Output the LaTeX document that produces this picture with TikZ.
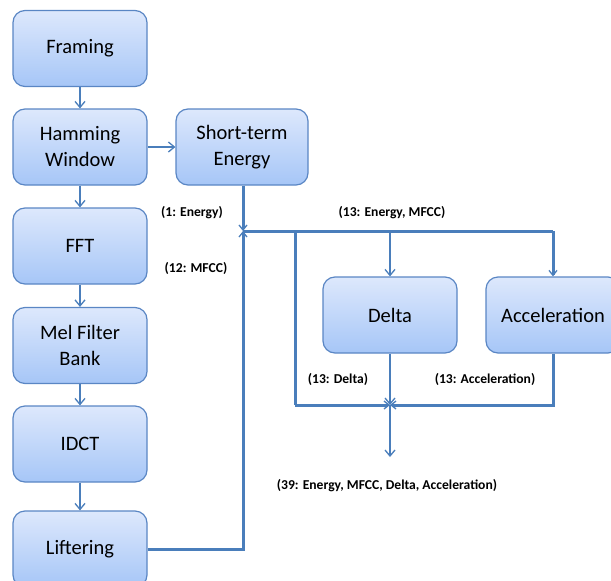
\documentclass[tikz,border=0pt]{standalone}
\usepackage{fontspec}
\setmainfont{Carlito}
\usetikzlibrary{arrows.meta}
\definecolor{edgeblue}{HTML}{5A86C4}
\definecolor{lineblue}{HTML}{4A7EBB}
\definecolor{topfill}{HTML}{DDE8FC}
\definecolor{botfill}{HTML}{A6C6F7}
\tikzset{
  procbox/.style={draw=edgeblue, line width=1.2pt, rounded corners=12pt,
    top color=topfill, bottom color=botfill, minimum width=134pt,
    minimum height=76pt, align=center, inner sep=0pt,
    font=\fontsize{20.5}{26}\selectfont},
  thinarrow/.style={draw=lineblue, line width=1.5pt,
    -{Straight Barb[length=6pt,width=10pt,line width=1.3pt]}},
  thickline/.style={draw=lineblue, line width=3pt},
  thickarrow/.style={draw=lineblue, line width=3pt,
    -{Straight Barb[length=5pt,width=8pt,line width=1.3pt]}},
  lbl/.style={font=\fontsize{13.6}{16}\bfseries\selectfont, inner sep=0pt}
}
\begin{document}
\begin{tikzpicture}[x=1pt,y=-1pt]
\useasboundingbox (0,0) rectangle (611,581);
\clip (0,0) rectangle (611,581);
% left column
\node[procbox] (framing) at (80,48.5) {Framing};
\node[procbox] (hamming) at (80,147) {Hamming\\Window};
\node[procbox] (fft) at (80,246) {FFT};
\node[procbox] (mel) at (80,345.5) {Mel Filter\\Bank};
\node[procbox] (idct) at (80,444) {IDCT};
\node[procbox] (lift) at (80,549) {Liftering};
\node[procbox, minimum width=132pt] (energy) at (242,147) {Short-term\\Energy};
\node[procbox] (delta) at (390,315) {Delta};
\node[procbox] (accel) at (553,315) {Acceleration};
% junctions
\coordinate (j1) at (243,231);
\coordinate (j2) at (390,405);
\coordinate (out) at (390,457);
% left column arrows
\draw[thinarrow] (framing) -- (hamming);
\draw[thinarrow] (hamming) -- (fft);
\draw[thinarrow] (fft) -- (mel);
\draw[thinarrow] (mel) -- (idct);
\draw[thinarrow] (idct) -- (lift);
\draw[thinarrow] (hamming) -- (energy);
% into junction 1
\draw[thickarrow] (energy.south -| j1) -- (j1);
\draw[thickarrow] (lift.east) -- (lift.east -| j1) -- (j1);
% from junction 1
\draw[thickline] (j1) -- (553,231);
\draw[thickarrow] (553,231) -- (accel.north);
\draw[thinarrow] (390,231) -- (delta.north);
\draw[thickline] (295,231) -- (295,405);
\draw[thickarrow] (295,405) -- (j2);
\draw[thickarrow] (accel.south) -- (553,405) -- (j2);
\draw[thinarrow] (delta.south) -- (j2);
\draw[thinarrow] (j2) -- (out);
% labels
\node[lbl] (l1) at (192,213) {(1: Energy)};
\node[lbl] (l2) at (196,268) {(12: MFCC)};
\node[lbl] (l3) at (392,213) {(13: Energy, MFCC)};
\node[lbl] (l4) at (338,379) {(13: Delta)};
\node[lbl] (l5) at (485,379) {(13: Acceleration)};
\node[lbl] (l6) at (387,486) {(39: Energy, MFCC, Delta, Acceleration)};
\end{tikzpicture}
\end{document}
